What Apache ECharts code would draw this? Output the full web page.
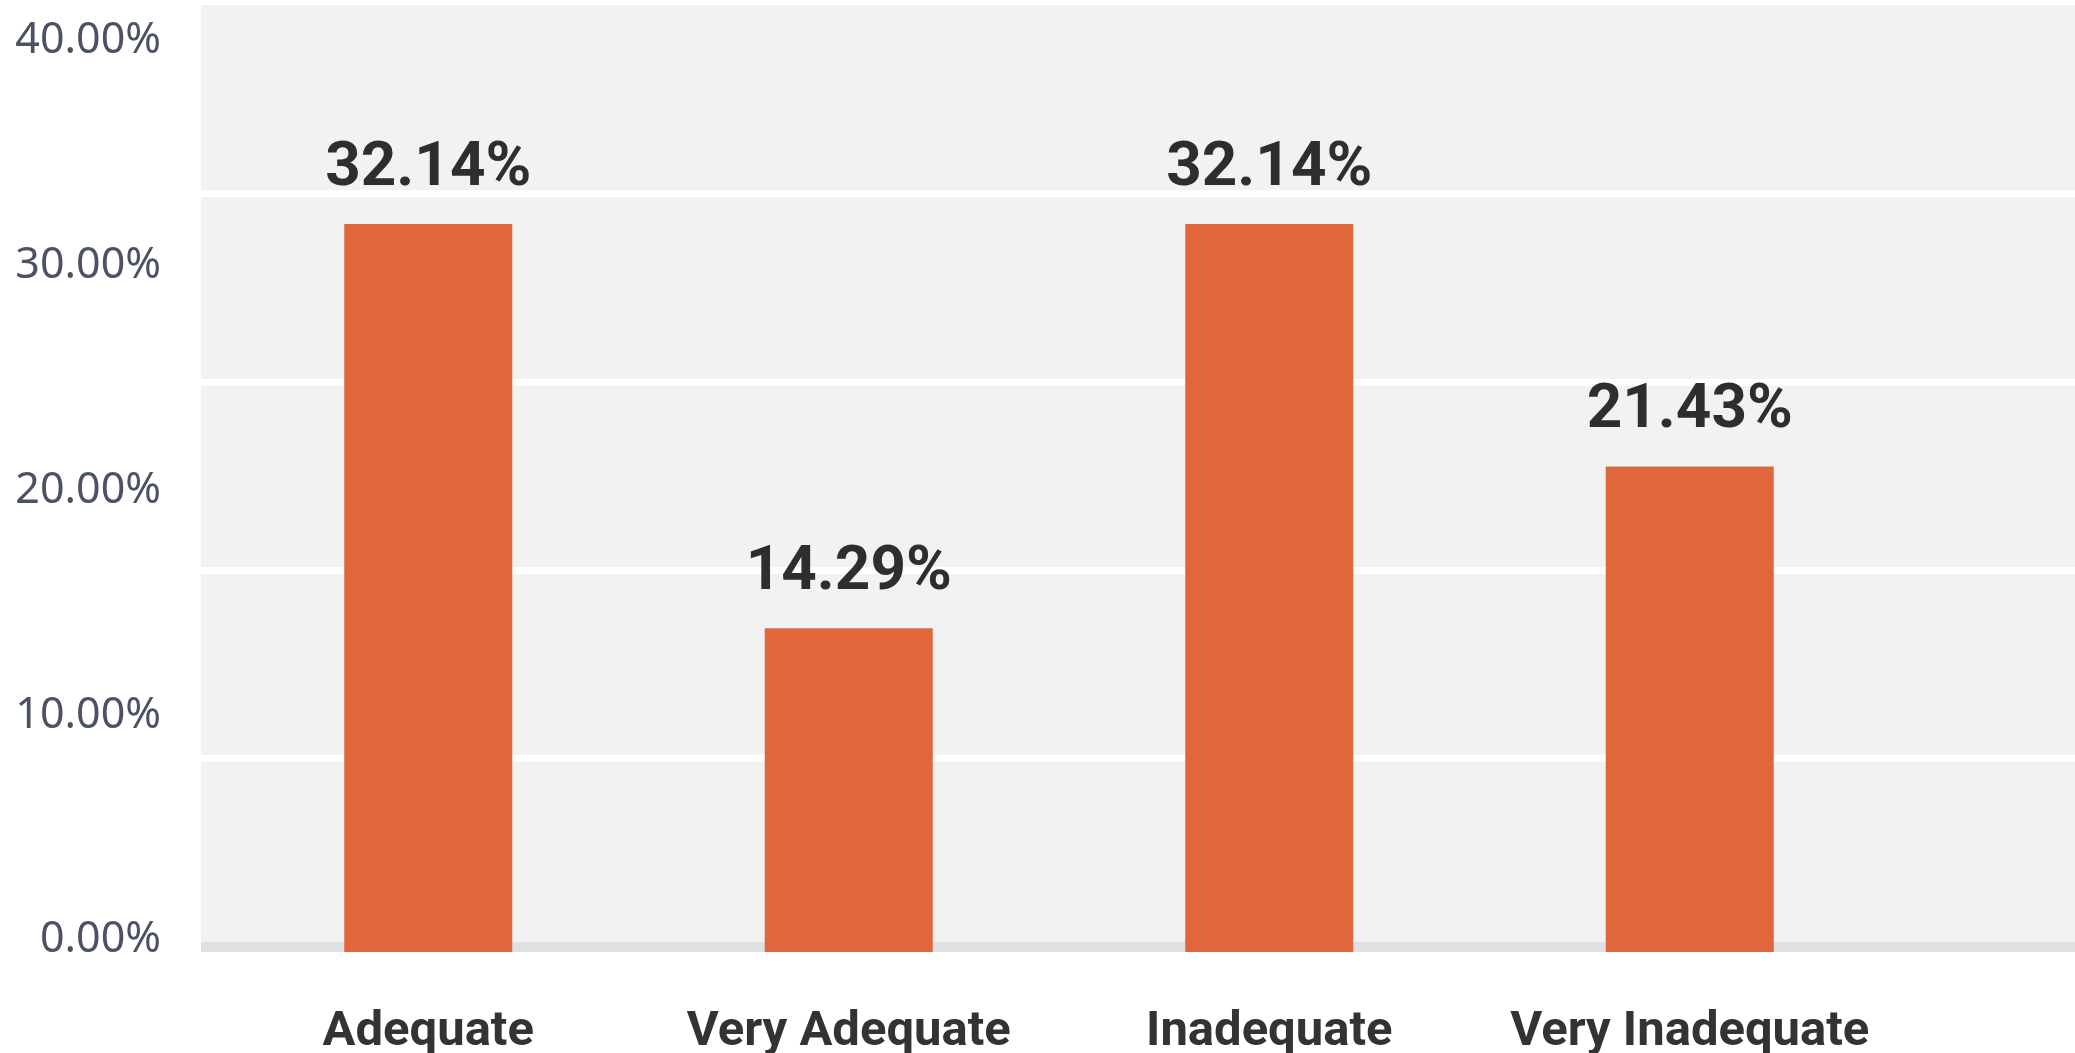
<!DOCTYPE html>
<html>
<head>
<meta charset="utf-8">
<script src="https://cdn.jsdelivr.net/npm/echarts@6/dist/echarts.min.js"></script>
<style>
  html, body { margin: 0; padding: 0; background: #ffffff; }
  #chart { width: 2075px; height: 1053px; }
</style>
</head>
<body>
<div id="chart"></div>
<script>
const categories = ['Adequate', 'Very Adequate', 'Inadequate', 'Very Inadequate'];
const shares = [32.14, 14.29, 32.14, 21.43];
const yTickLabels = ['0.00%', '10.00%', '20.00%', '30.00%', '40.00%'];

const chart = echarts.init(document.getElementById('chart'), null, { renderer: 'canvas' });

const option = {
  animation: false,
  backgroundColor: '#ffffff',
  grid: [
    { left: 201, right: 0, top: 5, bottom: 106, show: true, backgroundColor: '#f2f2f2', borderWidth: 0,
      containLabel: false, outerBoundsMode: 'none' },
    { left: 218, right: 175, top: 46, bottom: 101, show: false, containLabel: false, outerBoundsMode: 'none' },
    { left: 218, right: 175, top: 41, bottom: 113, show: false, containLabel: false, outerBoundsMode: 'none' }
  ],
  xAxis: [
    { gridIndex: 0, type: 'value', min: 0, max: 1, z: 0, axisLabel: { show: false }, axisTick: { show: false },
      splitLine: { show: false },
      axisLine: { show: true, lineStyle: { color: '#dde1e4', width: 10, cap: 'butt' } } },
    { gridIndex: 1, type: 'category', data: categories,
      axisLine: { show: false }, axisTick: { show: false },
      axisLabel: { interval: 0, margin: 56, color: '#333333', fontFamily: 'Roboto', fontWeight: 'bold', fontSize: 49 } },
    { gridIndex: 2, type: 'value', min: 0, max: 1, show: false }
  ],
  yAxis: [
    { gridIndex: 0, type: 'value', min: 0, max: 5, interval: 1, z: 0,
      axisLabel: { show: false }, axisLine: { show: false }, axisTick: { show: false },
      splitLine: { show: true, showMinLine: false, showMaxLine: false, lineStyle: { color: '#ffffff', width: 7 } } },
    { gridIndex: 1, type: 'value', min: 0, max: 40, interval: 10,
      axisLine: { show: false }, axisTick: { show: false }, splitLine: { show: false }, axisLabel: { show: false } },
    { gridIndex: 2, type: 'value', min: 0, max: 40, interval: 10,
      axisLine: { show: false }, axisTick: { show: false }, splitLine: { show: false },
      axisLabel: {
        margin: 57, color: '#4a5263', fontFamily: 'Noto Sans', fontSize: 43,
        formatter: v => yTickLabels[Math.round(v / 10)]
      } }
  ],
  series: [
    {
      type: 'bar', xAxisIndex: 1, yAxisIndex: 1, data: shares, barWidth: 168, z: 10,
      itemStyle: { color: '#e1663c' },
      label: {
        show: true, position: 'top', distance: 24, color: '#2e2e2e',
        fontFamily: 'Roboto', fontWeight: 'bold', fontSize: 62,
        formatter: p => p.value.toFixed(2) + '%'
      }
    }
  ]
};
chart.setOption(option);
</script>
</body>
</html>
